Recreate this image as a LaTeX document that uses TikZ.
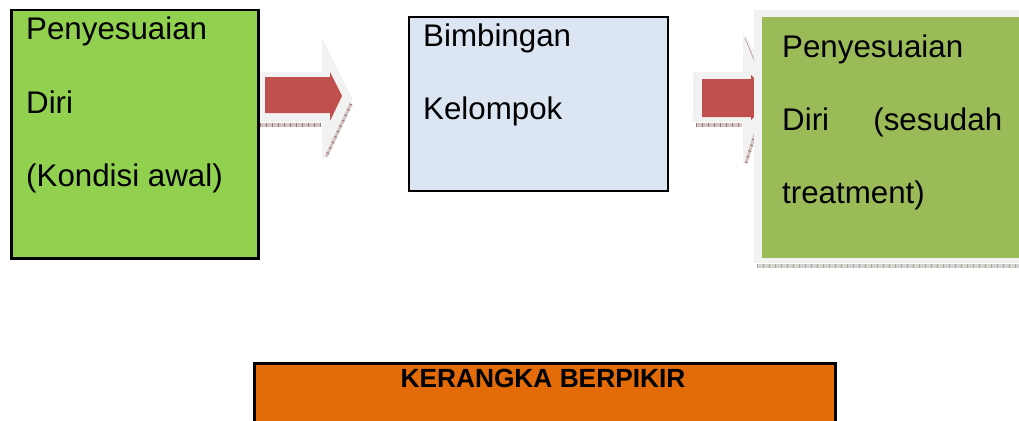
\documentclass[tikz,border=0pt]{standalone}
\usepackage{fontspec}
\setmainfont{Liberation Sans}
\definecolor{greenA}{HTML}{92D050}
\definecolor{greenB}{HTML}{9BBB59}
\definecolor{paleblue}{HTML}{DCE6F2}
\definecolor{arrowred}{HTML}{C0504D}
\definecolor{frame}{HTML}{F2F2F2}
\definecolor{shade}{HTML}{A07A7A}
\definecolor{shadeg}{HTML}{A8A8A0}
\definecolor{orangebox}{HTML}{E36C09}
\tikzset{
  box/.style={rectangle, draw=black, anchor=north west, inner sep=0pt},
  plain/.style={rectangle, anchor=north west, inner sep=0pt},
  txt/.style={anchor=base west, inner sep=0pt, font=\fontsize{31.3}{36}\selectfont},
  hatch/.style={draw=shade, line width=4pt, dash pattern=on 1pt off 5pt},
  band/.style={draw=shade!45, line width=4pt},
}
\begin{document}
\begin{tikzpicture}[x=1pt,y=-1pt]
\useasboundingbox (0,0) rectangle (1019,420);

% first arrow: pale outline arrow with red arrow inside
\fill[frame] (257,72) -- (322,72) -- (322,38) -- (353,100) -- (322,160) -- (322,122) -- (257,122) -- cycle;
\draw[band] (260,125) -- (321,125);
\draw[hatch] (260,125) -- (321,125);
\draw[band, line width=3pt] (351,104) -- (326,157);
\draw[hatch, line width=3pt] (351,104) -- (326,157);
\fill[arrowred] (265,77) -- (330,77) -- (330,72) -- (342,96) -- (330,121) -- (330,113) -- (265,113) -- cycle;

% second arrow, its head runs under the last box
\fill[frame] (693,72) -- (743,72) -- (743,33) -- (785,98) -- (743,163) -- (743,122) -- (693,122) -- cycle;
\draw[band] (696,125) -- (742,125);
\draw[hatch] (696,125) -- (742,125);
\draw[shade!70, line width=0.8pt] (745,38) -- (755,62);
\draw[band, line width=3pt] (746,163) -- (755,134);
\draw[hatch, line width=3pt] (746,163) -- (755,134);
\fill[arrowred] (702,79) -- (751,79) -- (751,75) -- (775,97) -- (751,120) -- (751,117) -- (702,117) -- cycle;

% the three stages
\node[box, fill=greenA, line width=2.5pt, minimum width=247pt, minimum height=248pt] (awal) at (10,9) {};
\node[txt] (awal1) at (26,39.5) {Penyesuaian};
\node[txt] (awal2) at (26,113) {Diri};
\node[txt] (awal3) at (26,186) {(Kondisi awal)};

\node[box, fill=paleblue, line width=2pt, minimum width=259pt, minimum height=174pt] (bimb) at (408,16) {};
\node[txt] (bimb1) at (423,46.5) {Bimbingan};
\node[txt] (bimb2) at (423,119) {Kelompok};

\node[plain, fill=frame, minimum width=270pt, minimum height=253pt] (akhirbg) at (754,10) {};
\draw[draw=shadeg!50, line width=4pt] (757,266) -- (1024,266);
\draw[draw=shadeg, line width=4pt, dash pattern=on 1pt off 5pt] (757,266) -- (1024,266);
\node[plain, fill=greenB, minimum width=262pt, minimum height=241pt] (akhir) at (762,17) {};
\node[txt] (akhir1) at (782,57) {Penyesuaian};
\node[txt] (akhir2) at (782,130) {\makebox[220pt][s]{Diri\hfill(sesudah}};
\node[txt] (akhir3) at (782,203) {treatment)};

% heading
\node[box, fill=orangebox, line width=3pt, minimum width=581pt, minimum height=80pt] (judul) at (253,362) {};
\node[anchor=base, inner sep=0pt, font=\bfseries\fontsize{26.3}{30}\selectfont] (judulteks) at (543,387) {KERANGKA BERPIKIR};
\end{tikzpicture}
\end{document}
